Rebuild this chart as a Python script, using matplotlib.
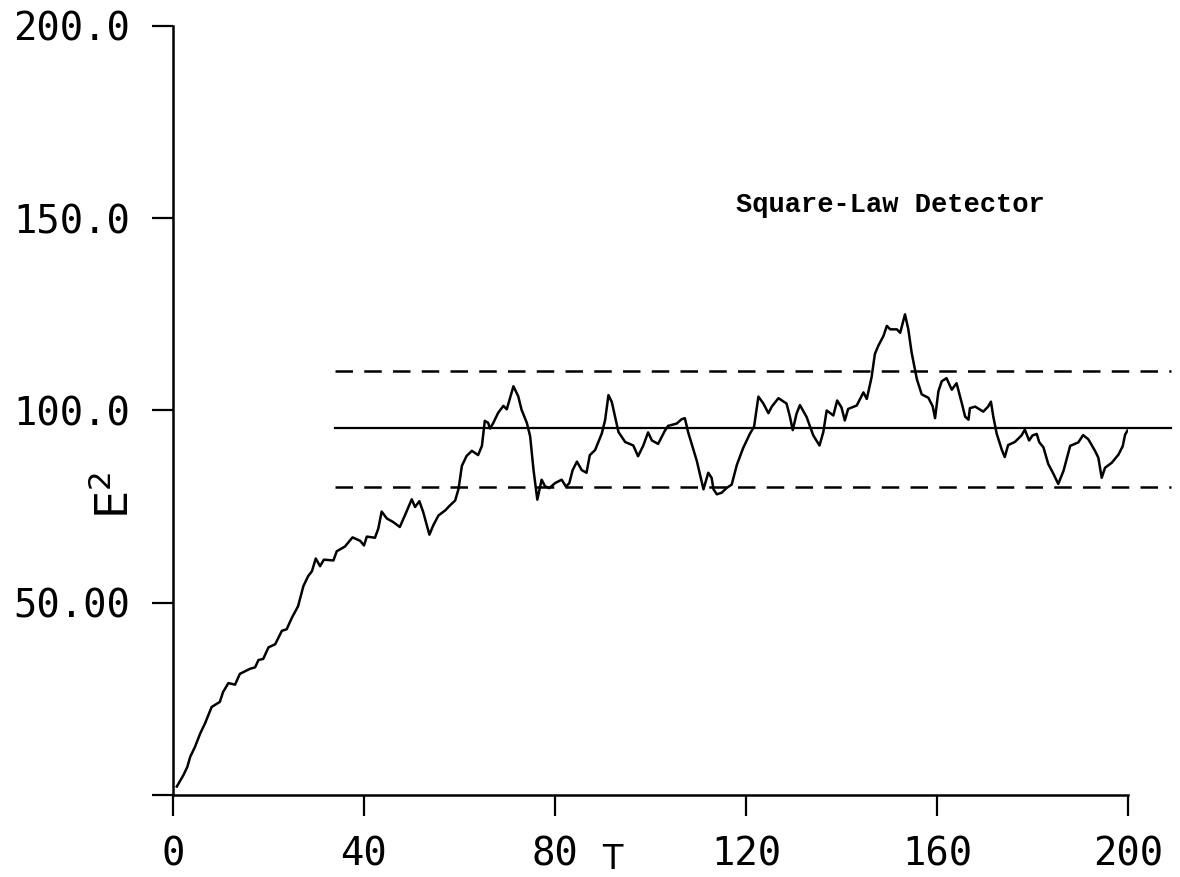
import matplotlib.pyplot as plt

# Data
t = [0.8, 2.2, 3.0, 3.6, 4.6, 5.7, 6.7, 8.1, 9.8, 10.5, 11.6, 13.0, 14.0, 16.1,
     17.2, 17.9, 18.9, 20.0, 21.4, 22.8, 23.8, 24.9, 26.2, 27.3, 28.3, 29.1,
     29.9, 30.8, 31.6, 33.6, 34.3, 36.0, 37.6, 39.2, 40.0, 40.6,
     42.3, 43.0, 43.7, 44.8, 46.1, 47.5, 48.6, 50.0, 50.7, 51.6, 52.4, 53.7,
     54.5, 55.6, 57.0, 58.0, 59.1, 59.8, 60.5, 61.5, 62.6, 63.9, 64.7, 65.3,
     66.0, 66.4, 67.1, 68.1, 69.2, 69.9, 70.6, 71.3, 72.3, 73.0, 74.1, 74.8,
     75.5, 76.3, 77.2, 77.9, 78.8, 80.0, 81.4, 82.3, 83.0, 83.7, 84.6,
     85.6, 86.6, 87.3, 88.4, 89.8, 90.5, 91.2, 91.9, 92.6, 93.3, 94.7, 96.4,
     97.4, 98.5, 99.5, 100.3, 101.6, 103.0, 103.7, 105.5, 106.5, 107.2, 107.9,
     109.7, 111.1, 112.1, 112.8, 113.2, 113.9, 114.9, 116.0, 117.0, 118.1,
     119.4, 120.8, 121.7, 122.6, 123.6, 124.7, 125.4, 126.8, 128.5, 129.2,
     129.8, 130.6, 131.3, 132.7, 134.1, 135.4, 136.2, 136.9, 138.3, 139.1,
     140.0, 140.7,
     141.4, 143.2, 144.6, 145.3, 146.3, 147.0, 147.7, 148.8, 149.5, 150.2,
     151.6, 152.3, 153.3, 154.0, 154.7, 155.8, 156.8, 158.2, 159.1, 159.6,
     160.3, 161.0, 162.0, 163.1, 164.1, 165.2, 165.9, 166.6, 166.9, 168.0,
     169.7, 170.7, 171.3, 171.8, 172.5, 173.6, 174.2, 174.9, 176.3, 177.7,
     178.4, 179.3, 180.0, 180.9, 181.4, 182.3, 183.3, 184.4, 185.4, 186.5,
     187.9, 189.6, 190.6, 191.7, 193.1, 193.8, 194.5, 195.2, 196.6, 198.0,
     198.9, 199.4, 199.9]

e2 = [2.2, 5.2, 7.3, 9.9, 12.5, 16.0, 18.6, 22.9, 24.2, 26.8, 29.1, 28.7, 31.5,
      32.8, 33.2, 35.1, 35.4, 38.4, 39.2, 42.7, 43.1, 46.1, 49.1, 54.3, 56.9,
      58.2, 61.5, 59.5, 61.2, 61.0, 63.4, 64.6, 67.0, 66.1, 64.9, 67.2,
      66.9, 69.3, 73.7, 71.9, 71.0, 69.7, 72.8, 76.9, 74.9, 76.4, 73.6, 67.7,
      70.1, 72.7, 74.0, 75.3, 76.6, 79.6, 85.6, 88.2, 89.5, 88.4, 90.8, 97.3,
      96.8, 95.3, 96.8, 99.4, 101.2, 100.3, 103.3, 106.3, 103.7, 100.2, 96.8,
      93.3, 84.6, 76.8, 82.0, 80.3, 79.8, 81.1, 82.0, 80.2, 81.1, 84.5, 86.7,
      84.5, 83.8, 88.4, 89.7, 94.0, 97.5, 104.0, 102.2, 98.3, 94.4, 91.8, 90.9,
      88.1, 90.9, 94.3, 92.2, 91.3, 94.7, 96.0, 96.6, 97.7, 98.0, 94.3, 86.9,
      79.5, 83.8, 82.5, 79.5, 78.2, 78.6, 79.9, 80.7, 85.9, 90.2, 93.9, 95.8,
      103.6, 101.9, 99.3, 101.0, 103.2, 101.8, 98.4, 94.9, 99.2, 101.4, 98.3,
      93.5, 90.9, 94.4, 100.0, 98.7, 102.6, 100.8, 97.4,
      100.4, 101.3, 104.7, 103.0, 108.6, 114.7, 116.8, 119.4, 122.0, 121.1,
      121.1, 120.2, 125.0, 121.1, 115.0, 108.1, 104.2, 103.3, 101.1, 98.0,
      105.0, 107.6, 108.4, 105.4, 107.1, 101.9, 98.4, 97.6, 100.6, 101.0,
      99.7, 101.0, 102.3, 98.4, 94.0, 89.7, 87.9, 91.0, 91.8, 93.5,
      95.0, 92.2, 93.5, 93.9, 91.8, 90.4, 86.1, 83.5, 80.9, 84.3,
      90.8, 91.7, 93.6, 92.5, 89.5, 87.7, 82.5, 85.1, 86.4, 88.5,
      90.7, 93.7, 94.8]

# steady-state mean and +/- band
band_t = [34, 209]
mean_level = 95.5
upper_level = 110.3
lower_level = 80.0

xticks = [0, 40, 80, 120, 160, 200]
xtick_labels = ['0', '40', '80', '120', '160', '200']
yticks = [0, 50, 100, 150, 200]
ytick_labels = ['', '50.00', '100.0', '150.0', '200.0']

fig = plt.figure(figsize=(11.8, 8.77), dpi=100)
ax = fig.add_axes([0.1466, 0.0935, 0.8093, 0.8769])

ax.plot(t, e2, color='black', lw=1.8)
ax.plot(band_t, [mean_level] * 2, color='black', lw=1.6, clip_on=False)
ax.plot(band_t, [upper_level] * 2, color='black', lw=1.8,
        linestyle=(0, (7, 4.5)), clip_on=False)
ax.plot(band_t, [lower_level] * 2, color='black', lw=1.8,
        linestyle=(0, (7, 4.5)), clip_on=False)

ax.set_xlim(0, 200)
ax.set_ylim(0, 200)
ax.spines['top'].set_visible(False)
ax.spines['right'].set_visible(False)
ax.spines['left'].set_linewidth(1.8)
ax.spines['bottom'].set_linewidth(1.8)

ax.set_xticks(xticks)
ax.set_xticklabels(xtick_labels, family='DejaVu Sans Mono', fontsize=28)
ax.set_yticks(yticks)
ax.set_yticklabels(ytick_labels, family='DejaVu Sans Mono', fontsize=28)
ax.tick_params(axis='x', direction='out', length=15, width=1.6, pad=14)
ax.tick_params(axis='y', direction='out', length=15, width=1.6, pad=16)

ax.text(0.46, -0.062, 'T', transform=ax.transAxes, ha='center', va='top',
        fontsize=24)
ax.text(-0.06, 0.39, r'E$^{\mathregular{2}}$', transform=ax.transAxes,
        rotation=90, ha='center', va='center', fontsize=32)

ax.text(118, 153.5, 'Square-Law Detector', family='Liberation Mono',
        fontweight='bold', fontsize=19.5, ha='left', va='center')

plt.savefig('out.png', dpi=100)
